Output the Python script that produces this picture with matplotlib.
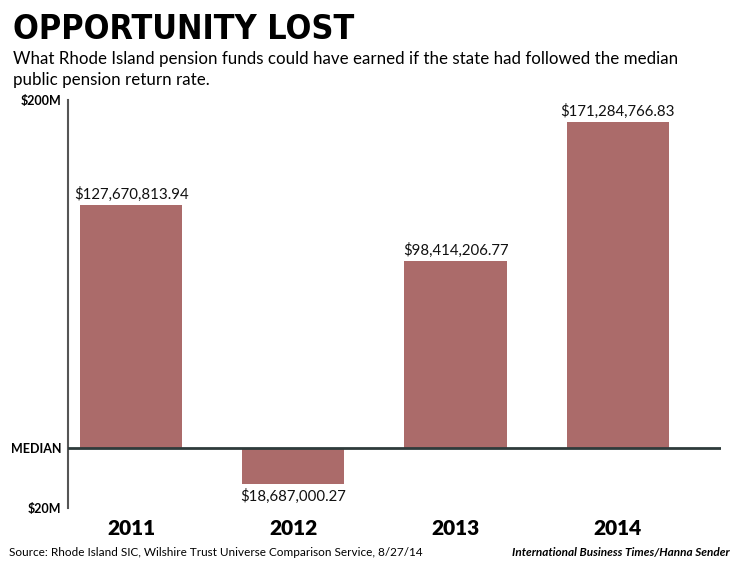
"""Opportunity lost: Rhode Island pension funds vs median public pension return"""

import matplotlib
matplotlib.use("Agg")
import matplotlib.pyplot as plt

# data (values in $M, relative to the median return)
years = ["2011", "2012", "2013", "2014"]
values = [127.67081394, -18.68700027, 98.41420677, 171.28476683]
value_labels = ["$127,670,813.94", "$18,687,000.27", "$98,414,206.77", "$171,284,766.83"]
y_limits = [-31.5, 182.8]
y_tick_labels = ["$20M", "MEDIAN", "$200M"]

BAR_COLOR = "#ab6b6a"
LINE_COLOR = "#2e3b3b"
FONT = ["Lato", "DejaVu Sans"]


def main():
    fig = plt.figure(figsize=(7.36, 5.64), dpi=100)
    ax = fig.add_axes([0.0924, 0.0993, 0.8872, 0.7234])

    x = list(range(len(years)))
    ax.bar(x, values, width=0.63, color=BAR_COLOR, zorder=2)
    ax.axhline(0, color=LINE_COLOR, linewidth=2, zorder=3)

    # value labels above / below bars
    for xi, v, lab in zip(x, values, value_labels):
        if v >= 0:
            ax.annotate(lab, (xi, v), xytext=(0, 2), textcoords="offset points",
                        ha="center", va="bottom", fontsize=10.8, family=FONT, color="#111111")
        else:
            ax.annotate(lab, (xi, v), xytext=(0, -4), textcoords="offset points",
                        ha="center", va="top", fontsize=10.8, family=FONT, color="#111111")

    ax.set_xlim(-0.389, 3.636)
    ax.set_ylim(*y_limits)
    ax.set_yticks([y_limits[0], 0, y_limits[1]])
    ax.set_yticklabels(y_tick_labels, fontsize=9, fontweight="bold", family=FONT)
    ax.tick_params(axis="y", length=0, pad=5)
    ax.set_xticks(x)
    ax.set_xticklabels(years, fontsize=15, fontweight="heavy", family=FONT)
    ax.tick_params(axis="x", length=0, pad=8)

    for side in ["top", "right", "bottom"]:
        ax.spines[side].set_visible(False)
    ax.spines["left"].set_color("#555555")
    ax.spines["left"].set_linewidth(1.5)

    # title block
    fig.text(0.017, 0.930, "OPPORTUNITY LOST", fontsize=24.5, fontweight="bold",
             family=["DejaVu Sans"], fontstretch="condensed", ha="left", va="baseline")
    fig.text(0.017, 0.887, "What Rhode Island pension funds could have earned if the state had followed the median",
             fontsize=12.2, family=FONT, ha="left", va="baseline")
    fig.text(0.017, 0.850, "public pension return rate.",
             fontsize=12.2, family=FONT, ha="left", va="baseline")

    # footer
    fig.text(0.012, 0.015, "Source: Rhode Island SIC, Wilshire Trust Universe Comparison Service, 8/27/14",
             fontsize=8.5, family=FONT, ha="left", va="baseline")
    fig.text(0.991, 0.015, "International Business Times/Hanna Sender",
             fontsize=8.5, family=FONT, fontweight="bold", style="italic", ha="right", va="baseline")

    fig.savefig("out.png", dpi=100)


if __name__ == "__main__":
    main()
